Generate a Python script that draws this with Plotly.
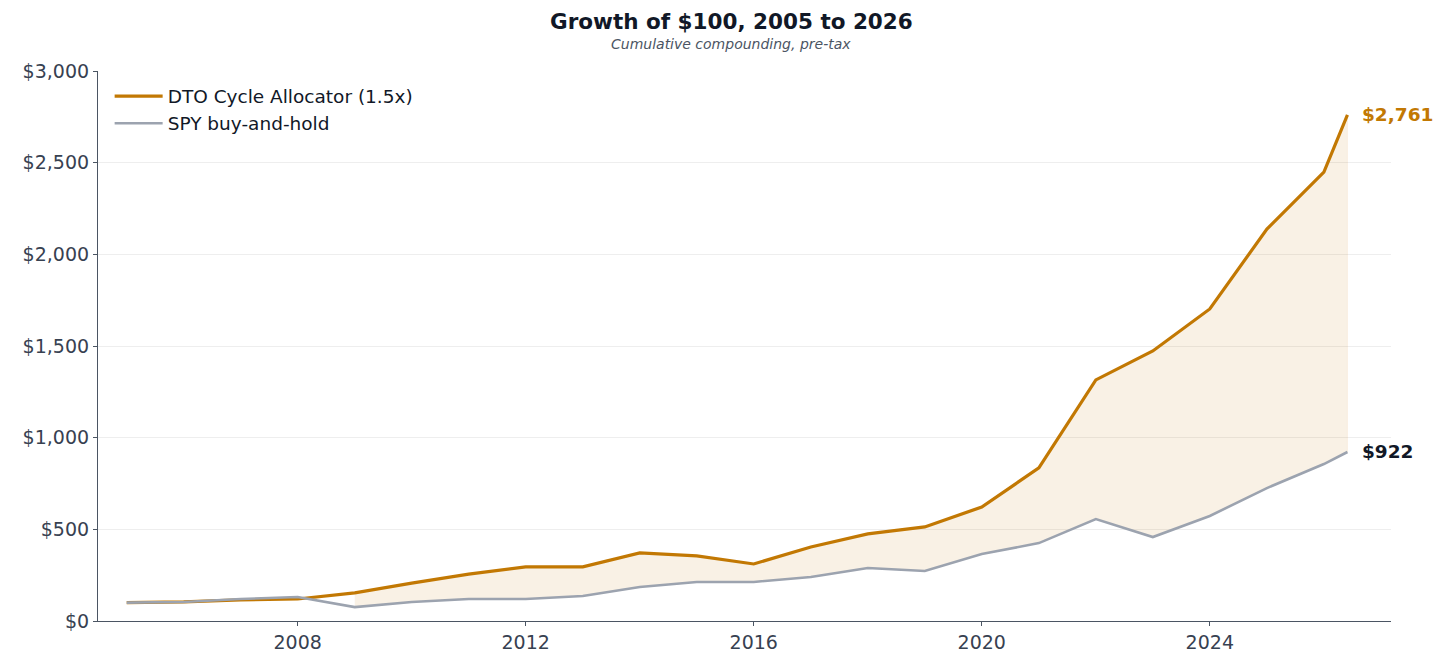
import plotly.graph_objects as go

# Growth of $100, annual points plus the latest partial-year mark
dates = [f"{y}-01-01" for y in range(2005, 2027)] + ["2026-06-01"]
dto = [100, 104, 115, 120, 153, 207, 256, 295, 295, 371, 355, 311, 404,
       475, 513, 622, 835, 1315, 1473, 1702, 2138, 2449, 2761]
spy = [100, 104, 120, 131, 76, 104, 120, 120, 136, 185, 213, 213, 240,
       289, 273, 365, 425, 556, 458, 573, 725, 856, 922]

y_ticks = [0, 500, 1000, 1500, 2000, 2500, 3000]
x_ticks = ["2008-01-01", "2012-01-01", "2016-01-01", "2020-01-01", "2024-01-01"]

FONT = "DejaVu Sans"
ORANGE = "#c27803"
GREY = "#9ca3af"

# shaded gap only where the allocator is ahead
start = next(i for i in range(len(dto)) if all(d >= s for d, s in zip(dto[i:], spy[i:])))
fx = dates[start:] + dates[start:][::-1]
fy = dto[start:] + spy[start:][::-1]

fig = go.Figure()
fig.add_trace(go.Scatter(
    x=fx, y=fy, fill="toself", mode="lines",
    fillcolor="rgba(194,120,3,0.10)", line=dict(width=0.6, color="rgba(194,120,3,0.12)"),
    showlegend=False, hoverinfo="skip",
))
fig.add_trace(go.Scatter(
    x=dates, y=dto, mode="lines", name="DTO Cycle Allocator (1.5x)",
    line=dict(color=ORANGE, width=3.2),
))
fig.add_trace(go.Scatter(
    x=dates, y=spy, mode="lines", name="SPY buy-and-hold",
    line=dict(color=GREY, width=2.6),
))

fig.add_annotation(x=dates[-1], y=dto[-1], text=f"<b>${dto[-1]:,}</b>", showarrow=False,
                   xanchor="left", xshift=13, font=dict(size=18.5, color=ORANGE, family=FONT))
fig.add_annotation(x=dates[-1], y=spy[-1], text=f"<b>${spy[-1]:,}</b>", showarrow=False,
                   xanchor="left", xshift=13, font=dict(size=18.5, color="#111827", family=FONT))

W, H = 1440, 656
L, R, T, B = 90, 57, 63, 43
plot_w = W - L - R
plot_h = H - T - B
title_x = (723 - L) / plot_w  # header is centred on the page, not on the plot area

# title and subtitle as paper annotations, placed by pixel row from the top
fig.add_annotation(x=title_x, xref="paper", y=1 + (T - 14) / plot_h, yref="paper", yanchor="middle",
                   text="<b>Growth of $100, 2005 to 2026</b>",
                   showarrow=False, font=dict(size=21.5, color="#111827", family=FONT))
fig.add_annotation(x=title_x, xref="paper", y=1 + (T - 36) / plot_h, yref="paper", yanchor="middle",
                   text="<i>Cumulative compounding, pre-tax</i>",
                   showarrow=False, font=dict(size=14, color="#4b5563", family=FONT))

fig.update_layout(
    width=W, height=H,
    margin=dict(l=L, r=R, t=T, b=B),
    paper_bgcolor="white", plot_bgcolor="white",
    font=dict(family=FONT, size=19, color="#374151"),
    showlegend=True,
    legend=dict(x=0.009, y=0.988, xanchor="left", yanchor="top", tracegroupgap=0, itemwidth=48,
                bgcolor="rgba(255,255,255,0)", font=dict(size=18.5, color="#111827")),
    xaxis=dict(
        range=["2004-07-01", "2027-03-07"], tickvals=x_ticks, ticktext=[t[:4] for t in x_ticks],
        showgrid=False, showline=True, linecolor="#4b5563", linewidth=1.2,
        ticks="outside", ticklen=4, tickcolor="#4b5563", zeroline=False,
    ),
    yaxis=dict(
        range=[0, 3000], tickvals=y_ticks, ticktext=[f"${v:,}" for v in y_ticks],
        showgrid=True, gridcolor="#eeeeee", gridwidth=1,
        showline=True, linecolor="#4b5563", linewidth=1.2,
        ticks="outside", ticklen=4, tickcolor="#4b5563", zeroline=False,
    ),
)

fig.write_html("out.html")
